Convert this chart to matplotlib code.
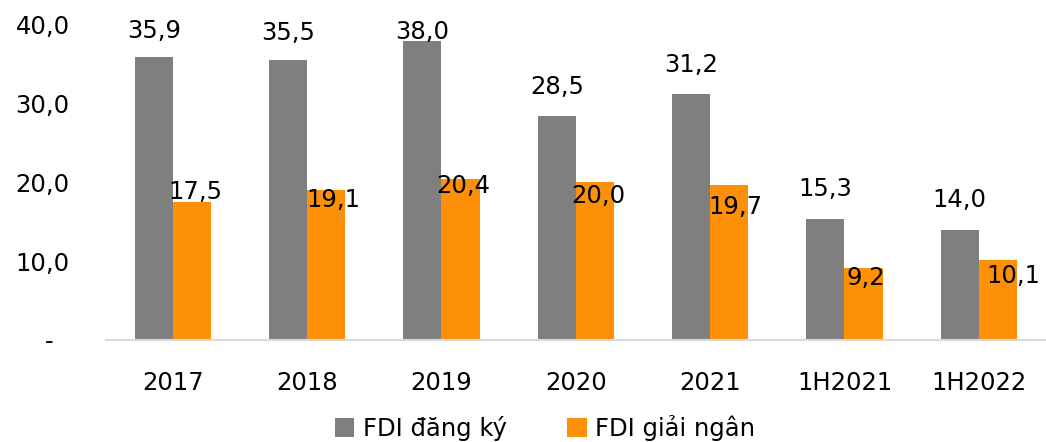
import matplotlib.pyplot as plt
import numpy as np

categories = ["2017", "2018", "2019", "2020", "2021", "1H2021", "1H2022"]
fdi_dang_ky = [35.9, 35.5, 38.0, 28.5, 31.2, 15.3, 14.0]
fdi_giai_ngan = [17.5, 19.1, 20.4, 20.0, 19.7, 9.2, 10.1]
y_ticks = [0, 10, 20, 30, 40]
y_tick_labels = ["-  ", "10,0", "20,0", "30,0", "40,0"]

# label nudges (pixels), as placed in the source chart
gray_dy = [26, 27, 9, 29, 29, 30, 30]
orange_dy = [10, -10, -7, -14, -22, -10, -16]
orange_dx = [3, 7, 3, 3, 6, 2, 15]

GRAY = "#7f7f7f"
ORANGE = "#fd9006"
FS = 17.5

plt.rcParams["font.family"] = ["DejaVu Sans"]

fig = plt.figure(figsize=(10.46, 4.42), dpi=100)
ax = fig.add_axes([0.101, 0.2308, 0.899, 0.7127])

x = np.arange(len(categories))
w = 0.284
b1 = ax.bar(x - w / 2, fdi_dang_ky, w, color=GRAY, label="FDI đăng ký")
b2 = ax.bar(x + w / 2, fdi_giai_ngan, w, color=ORANGE, label="FDI giải ngân")

def fmt(v):
    return f"{v:.1f}".replace(".", ",")

for i, v in enumerate(fdi_dang_ky):
    ax.annotate(fmt(v), (x[i] - w / 2, v), xytext=(0, gray_dy[i]),
                textcoords="offset pixels", ha="center", va="center",
                fontsize=FS, annotation_clip=False)
for i, v in enumerate(fdi_giai_ngan):
    ax.annotate(fmt(v), (x[i] + w / 2, v), xytext=(orange_dx[i], orange_dy[i]),
                textcoords="offset pixels", ha="center", va="center",
                fontsize=FS, annotation_clip=False)

ax.set_xlim(-0.5, 6.5)
ax.set_ylim(0, 40)
ax.set_yticks(y_ticks)
ax.set_yticklabels(y_tick_labels)
ax.set_xticks(x)
ax.set_xticklabels(categories)
ax.tick_params(axis="both", length=0, labelsize=FS)
ax.tick_params(axis="y", pad=26)
ax.tick_params(axis="x", pad=22)

for s in ["top", "right", "left"]:
    ax.spines[s].set_visible(False)
ax.spines["bottom"].set_color("#d9d9d9")
ax.spines["bottom"].set_linewidth(1.5)

fig.legend(loc="center", bbox_to_anchor=(545 / 1046, 1 - 428 / 442),
           ncol=2, frameon=False, fontsize=FS, handlelength=0.8,
           handleheight=0.8, handletextpad=0.35, columnspacing=2.5)

fig.savefig("out.png", dpi=100)
